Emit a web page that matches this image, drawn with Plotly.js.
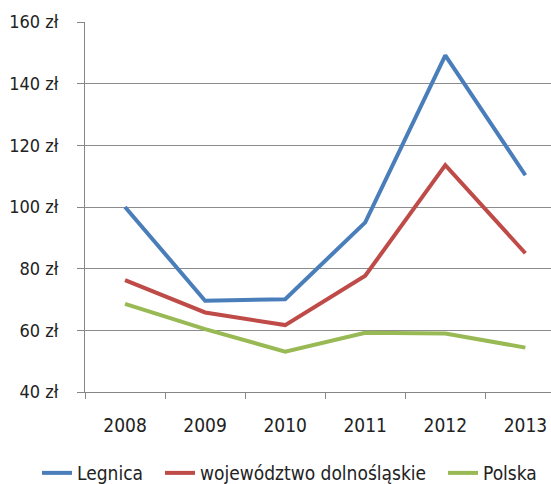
<!DOCTYPE html>
<html>
<head>
<meta charset="utf-8">
<script src="https://cdn.plot.ly/plotly-3.0.1.min.js"></script>
<style>
html,body{margin:0;padding:0;background:#fff;overflow:hidden;}
#chart{width:551px;height:484px;}
</style>
</head>
<body>
<div id="chart"></div>
<script>
const years = ['2008','2009','2010','2011','2012','2013'];
const legnica = [100, 69.6, 70.1, 95, 149.2, 110.3];
const dolnoslaskie = [76.3, 65.8, 61.7, 77.7, 113.6, 85];
const polska = [68.6, 60.4, 53.1, 59.2, 59.0, 54.4];
const seriesNames = ['Legnica', 'województwo dolnośląskie', 'Polska'];
const yTicks = [40, 60, 80, 100, 120, 140, 160];
const yTickText = ['40 zł', '60 zł', '80 zł', '100 zł', '120 zł', '140 zł', '160 zł'];

const FONT = '"DejaVu Sans Condensed", "Liberation Sans Narrow", Arial, sans-serif';
const colors = ['#4A7EBB', '#BE4B48', '#98B954'];
const legendWidths = [78, 238, undefined];
const data = [legnica, dolnoslaskie, polska].map((vals, i) => {
  const t = {
    type: 'scatter', mode: 'lines', x: years, y: vals, name: seriesNames[i],
    line: {color: colors[i], width: 4}, hoverinfo: 'skip'
  };
  if (legendWidths[i]) t.legendwidth = legendWidths[i];
  return t;
});

const layout = {
  width: 551, height: 484,
  margin: {l: 85, r: 0, t: 22, b: 92, autoexpand: false},
  paper_bgcolor: '#fff', plot_bgcolor: '#fff',
  font: {family: FONT, size: 19, color: '#222'},
  showlegend: true,
  legend: {orientation: 'h', x: -0.103, y: -0.219,
           xanchor: 'left', yanchor: 'middle', font: {family: FONT, size: 19, color: '#222'},
           itemclick: false, traceorder: 'normal', bgcolor: 'rgba(0,0,0,0)'},
  xaxis: {type: 'category', range: [-0.5, 5.32], tickson: 'boundaries', ticks: 'outside',
          ticklen: 6, tickcolor: '#868686', tickwidth: 1, showline: true, linecolor: '#868686',
          linewidth: 1, showgrid: false, zeroline: false, fixedrange: true, automargin: false,
          ticklabelstandoff: 16, tickfont: {family: FONT, size: 19, color: '#222'}},
  yaxis: {range: [40, 160], tickvals: yTicks, ticktext: yTickText, ticks: 'outside', ticklen: 7,
          tickcolor: '#868686', tickwidth: 1, showline: true, linecolor: '#868686', linewidth: 1,
          showgrid: true, gridcolor: '#8c8c8c', gridwidth: 1, zeroline: false, fixedrange: true,
          automargin: false, ticklabelstandoff: 15, tickfont: {family: FONT, size: 18, color: '#222'}}
};
Plotly.newPlot('chart', data, layout, {staticPlot: true, displayModeBar: false});
</script>
</body>
</html>
